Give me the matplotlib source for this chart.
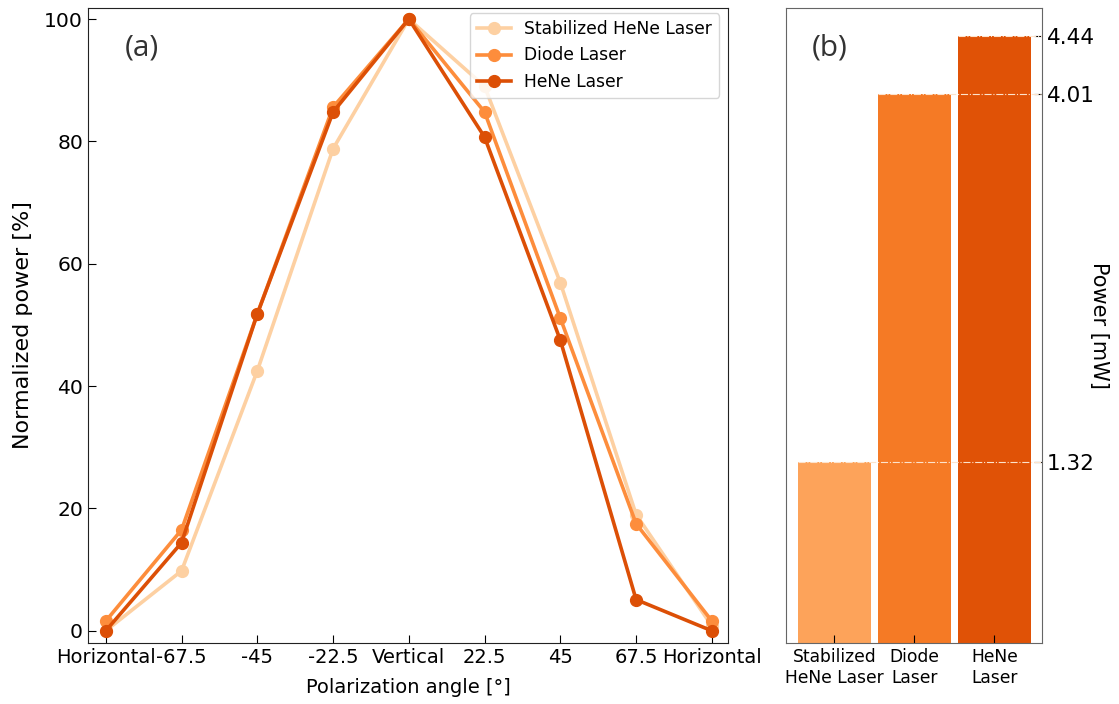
import numpy as np
import matplotlib
matplotlib.use("Agg")
import matplotlib.pyplot as plt

angles = [-90, -67.5, -45, -22.5, 0, 22.5, 45, 67.5, 90]
angle_labels = ["Horizontal", "-67.5", "-45", "-22.5", "Vertical", "22.5", "45", "67.5", "Horizontal"]

stab_hene = [0, 9.8, 42.5, 78.8, 100, 89, 56.9, 19, 0.8]
diode = [1.6, 16.5, 51.8, 85.6, 100, 84.8, 51.1, 17.5, 1.6]
hene = [0, 14.4, 51.8, 84.8, 100, 80.7, 47.5, 5.1, 0]

lasers = ["Stabilized\nHeNe Laser", "Diode\nLaser", "HeNe\nLaser"]
powers = [1.32, 4.01, 4.44]

line_colors = ["#fdd0a2", "#fd8d3c", "#dc4f06"]
bar_colors = ["#fda35a", "#f57a25", "#e05206"]

fig = plt.figure(figsize=(11.19, 7.04), dpi=100)
ax1 = fig.add_axes([0.0786, 0.0866, 0.572, 0.902])
ax2 = fig.add_axes([0.7024, 0.0866, 0.2288, 0.902])

# (a) polarization curves
for vals, c, lab in zip([stab_hene, diode, hene], line_colors,
                        ["Stabilized HeNe Laser", "Diode Laser", "HeNe Laser"]):
    ax1.plot(angles, vals, marker="o", ms=8.5, lw=2.6, color=c, label=lab)

ax1.set_xlim(-95.3, 94.8)
ax1.set_ylim(-2, 101.8)
ax1.set_xticks(angles)
ax1.set_xticklabels(angle_labels)
ax1.set_yticks([0, 20, 40, 60, 80, 100])
ax1.tick_params(direction="in", labelsize=14, length=6)
ax1.tick_params(axis="y", labelsize=14.6)
ax1.set_xlabel("Polarization angle [°]", fontsize=14, labelpad=8)
ax1.set_ylabel("Normalized power [%]", fontsize=16, labelpad=8)
ax1.legend(loc="upper right", fontsize=12.3, framealpha=0.8, borderaxespad=0,
           bbox_to_anchor=(0.986, 0.992))
ax1.text(0.058, 0.937, "(a)", transform=ax1.transAxes, fontsize=21.5,
         family="Open Sans", color="#333333", va="center")
for s in ax1.spines.values():
    s.set_color("#222222")

# (b) laser powers
x = np.arange(len(lasers))
ax2.bar(x, powers, width=0.91, color=bar_colors)
ax2.set_xlim(-0.606, 2.594)
ax2.set_ylim(0, 4.642)
for xi, p in zip(x, powers):
    ax2.hlines(p, xi - 0.455, 2.594, colors="#fde3cc", linestyles="-.", lw=0.8)
ax2.set_xticks(x)
ax2.set_xticklabels(lasers)
ax2.yaxis.tick_right()
ax2.yaxis.set_label_position("right")
ax2.set_yticks(powers)
ax2.set_yticklabels([f"{p:.2f}" for p in powers])
ax2.tick_params(direction="in", labelsize=15.5, length=6)
ax2.tick_params(axis="x", labelsize=12.3)
ax2.set_ylabel("Power [mW]", fontsize=15, rotation=270, labelpad=10)
ax2.text(0.1, 0.937, "(b)", transform=ax2.transAxes, fontsize=21.5,
         family="Open Sans", color="#333333", va="center")
for s in ax2.spines.values():
    s.set_color("#666666")

fig.savefig("out.png", dpi=100)
